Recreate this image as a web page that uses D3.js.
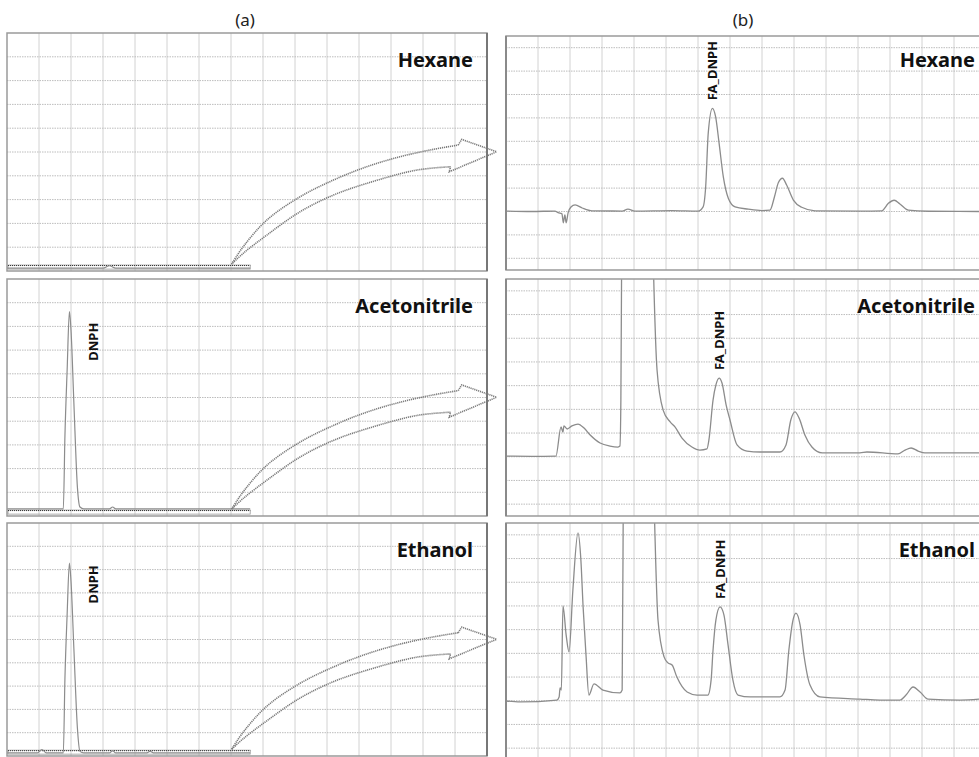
<!DOCTYPE html>
<html>
<head>
<meta charset="utf-8">
<script src="https://cdn.jsdelivr.net/npm/d3@7"></script>
<style>
  body { margin: 0; background: #fff; }
  text { font-family: "Noto Sans", "DejaVu Sans", sans-serif; }
</style>
</head>
<body>
<script>
// 画布宽高
const width = 979;
const height = 757;

// 溶剂 / 面板标题
const solvents = ['Hexane', 'Acetonitrile', 'Ethanol'];
const columnTitles = ['(a)', '(b)'];

// (a) 全谱: 保留时间 (格) 和信号
const hexFullTime = [0, 3.0, 3.2, 3.4, 7.6];
const hexFullSig  = [0.12, 0.12, 0.22, 0.12, 0.12];
const aceFullTime = [0, 1.7, 1.76, 1.81, 1.88, 1.95, 2.0, 2.09, 2.2, 2.28, 2.4, 3.2, 3.3, 3.4, 7.6];
const aceFullSig  = [0.3, 0.3, 0.3, 3.35, 6.18, 8.62, 7.85, 4.77, 1.22, 0.38, 0.3, 0.3, 0.38, 0.3, 0.3];
const ethFullTime = [0, 0.95, 1.09, 1.23, 1.7, 1.76, 1.81, 1.88, 1.95, 2.0, 2.09, 2.2, 2.28, 2.4, 3.2, 3.3, 3.4, 4.35, 4.47, 4.6, 7.6];
const ethFullSig  = [0.13, 0.13, 0.28, 0.13, 0.13, 0.13, 3.3, 6.1, 8.28, 7.5, 4.6, 1.2, 0.2, 0.13, 0.13, 0.23, 0.13, 0.13, 0.2, 0.13, 0.13];

// (b) 放大谱
const hexZoomTime = [0, 0.8, 1.53, 1.63, 1.75, 1.79, 1.84, 1.88, 1.94, 2.03, 2.16, 2.38, 2.69, 3.63, 3.81, 4.03, 5.19, 6.0, 6.16, 6.24, 6.32, 6.45, 6.55, 6.66, 6.79, 6.95, 7.16, 7.57, 7.99, 8.25, 8.39, 8.51, 8.64, 8.77, 8.98, 9.24, 9.66, 11.1, 11.74, 11.95, 12.13, 12.31, 12.57, 13.2, 14.8];
const hexZoomSig  = [0.02, 0.0, 0.02, -0.05, -0.1, -0.48, -0.15, -0.48, -0.06, 0.19, 0.28, 0.15, 0.03, 0.02, 0.1, 0.02, 0.04, 0.02, 0.2, 1.06, 3.35, 4.41, 4.05, 2.91, 1.49, 0.56, 0.2, 0.1, 0.04, 0.06, 0.63, 1.23, 1.42, 1.13, 0.49, 0.18, 0.03, 0.02, 0.03, 0.35, 0.48, 0.32, 0.06, 0.01, 0.0];
const aceZoomTime = [0, 0.8, 1.56, 1.72, 1.78, 1.81, 1.91, 2.06, 2.25, 2.44, 2.63, 2.94, 3.25, 3.5, 3.56, 3.59, 3.62, 4.1, 4.57, 4.72, 4.91, 5.13, 5.28, 5.5, 5.81, 6.06, 6.28, 6.34, 6.47, 6.56, 6.66, 6.75, 6.88, 7.0, 7.22, 7.53, 7.94, 8.56, 8.75, 8.9, 9.03, 9.16, 9.34, 9.56, 9.88, 11.06, 11.28, 12.25, 12.47, 12.66, 12.88, 13.09, 14.8];
const aceZoomSig  = [0.03, 0.02, 0.03, 1.26, 1.04, 1.3, 1.17, 1.3, 1.38, 1.21, 0.92, 0.58, 0.45, 0.41, 0.45, 2.4, 10, 60, 10, 3.66, 1.97, 1.47, 1.26, 0.79, 0.41, 0.28, 0.33, 0.7, 2.39, 3.03, 3.32, 3.11, 2.18, 1.55, 0.5, 0.24, 0.2, 0.2, 0.5, 1.55, 1.89, 1.63, 0.92, 0.41, 0.16, 0.16, 0.2, 0.12, 0.28, 0.37, 0.24, 0.16, 0.16];
const ethZoomTime = [0, 0.44, 1.59, 1.66, 1.69, 1.73, 1.78, 1.88, 1.97, 2.09, 2.25, 2.34, 2.41, 2.5, 2.59, 2.75, 3.03, 3.56, 3.63, 3.67, 4.1, 4.6, 4.75, 4.94, 5.06, 5.19, 5.34, 5.66, 5.97, 6.31, 6.41, 6.47, 6.56, 6.69, 6.81, 6.94, 7.09, 7.25, 7.63, 8.56, 8.72, 8.84, 8.97, 9.06, 9.19, 9.31, 9.5, 9.81, 11.06, 11.69, 12.31, 12.5, 12.72, 12.94, 13.19, 14.19, 14.8];
const ethZoomSig  = [-0.01, -0.05, 0.03, 0.16, 0.54, 0.45, 4.0, 2.77, 2.06, 4.67, 7.08, 5.94, 3.95, 1.93, 0.24, 0.71, 0.45, 0.33, 0.45, 10, 60, 10, 3.41, 1.85, 1.6, 1.51, 1.0, 0.37, 0.24, 0.24, 0.88, 2.14, 3.41, 3.96, 3.62, 2.35, 0.88, 0.24, 0.16, 0.16, 0.45, 2.14, 3.41, 3.7, 3.2, 1.93, 0.66, 0.16, 0.07, 0.03, 0.03, 0.24, 0.58, 0.37, 0.07, 0.03, 0.07];

// 峰标注
const fullPeakLabel = ['', 'DNPH', 'DNPH'];
const fullPeakTime = [0, 1.95, 1.95];
const zoomPeakLabel = ['FA_DNPH', 'FA_DNPH', 'FA_DNPH'];
const zoomPeakTime = [6.45, 6.66, 6.69];
const zoomPeakSig = [4.41, 3.32, 3.96];

// 放大区域 (a 中的时间范围)
const zoomWindow = [0, 7.6];

// 弯箭头 (a 面板坐标: 时间, 信号)
const arrowUpper = [[7.02, 0.29], [7.38, 1.02], [8.12, 2.14], [9.16, 3.12], [10.2, 3.82], [11.24, 4.38], [12.28, 4.8], [13.32, 5.11], [14.1, 5.29]];
const arrowHead  = [[14.1, 5.29], [14.21, 5.53], [15.3, 5.01], [13.82, 4.17], [13.86, 4.38]];
const arrowLower = [[13.86, 4.38], [12.8, 4.24], [11.24, 3.68], [10.2, 3.19], [9.16, 2.49], [8.12, 1.51], [7.38, 0.74], [7.02, 0.29]];

const fullSeries = [[hexFullTime, hexFullSig], [aceFullTime, aceFullSig], [ethFullTime, ethFullSig]];
const zoomSeries = [[hexZoomTime, hexZoomSig], [aceZoomTime, aceZoomSig], [ethZoomTime, ethZoomSig]];

// 面板位置
const leftBox = [{top: 33, bottom: 271}, {top: 279, bottom: 516}, {top: 523, bottom: 756}];
const rightBox = [{top: 36, bottom: 270}, {top: 279, bottom: 516}, {top: 523, bottom: 760}];
const leftX = [7, 487];
const rightX = [506, 986];

const traceColor = '#8c8c8c';

// 添加画布
const svg = d3.select('body')
    .append('svg')
    .attr('width', width)
    .attr('height', height);

// 列标题
svg.selectAll('.coltitle')
    .data(columnTitles)
    .enter()
    .append('text')
    .attr('x', (d, i) => i === 0 ? 245 : 743)
    .attr('y', 26)
    .attr('text-anchor', 'middle')
    .attr('font-size', 17)
    .attr('fill', '#222')
    .text(d => d);

function drawGrid(g, x, y, xTicks, yTicks, box, xr) {
  g.selectAll('.vgrid')
    .data(xTicks)
    .enter()
    .append('line')
    .attr('x1', d => x(d)).attr('x2', d => x(d))
    .attr('y1', box.top).attr('y2', box.bottom)
    .attr('stroke', '#d2d2d2')
    .attr('stroke-width', 1);
  g.selectAll('.hgrid')
    .data(yTicks)
    .enter()
    .append('line')
    .attr('x1', xr[0]).attr('x2', xr[1])
    .attr('y1', d => y(d)).attr('y2', d => y(d))
    .attr('stroke', '#bdbdbd')
    .attr('stroke-dasharray', '1.5,1')
    .attr('stroke-width', 1);
}

solvents.forEach((name, i) => {
  // ---------- (a) ----------
  const lb = leftBox[i];
  const xL = d3.scaleLinear().domain([0, 15]).range(leftX);
  const yL = d3.scaleLinear().domain([0, 10]).range([lb.bottom, lb.top]);
  const gL = svg.append('g');

  drawGrid(gL, xL, yL, d3.range(1, 15), d3.range(1, 10), lb, leftX);

  // 放大区域框
  gL.append('rect')
    .attr('x', xL(zoomWindow[0]) + 1)
    .attr('y', yL(0.25))
    .attr('width', xL(zoomWindow[1]) - xL(zoomWindow[0]) - 1)
    .attr('height', yL(0.08) - yL(0.25))
    .attr('fill', 'none')
    .attr('stroke', '#999')
    .attr('stroke-width', 0.8);
  gL.append('line')
    .attr('x1', xL(zoomWindow[0]) + 1).attr('x2', xL(zoomWindow[1]))
    .attr('y1', yL(0.25) + 0.5).attr('y2', yL(0.25) + 0.5)
    .attr('stroke', '#333')
    .attr('stroke-dasharray', '1,1');

  const [ft, fs] = fullSeries[i];
  const fullLine = d3.line()
    .x(d => xL(d[0]))
    .y(d => yL(d[1]))
    .curve(d3.curveMonotoneX);
  gL.append('path')
    .datum(d3.zip(ft, fs))
    .attr('d', fullLine)
    .attr('fill', 'none')
    .attr('stroke', traceColor)
    .attr('stroke-width', 1.2);

  // 边框
  gL.append('rect')
    .attr('x', leftX[0]).attr('y', lb.top)
    .attr('width', leftX[1] - leftX[0]).attr('height', lb.bottom - lb.top)
    .attr('fill', 'none')
    .attr('stroke', '#9a9a9a')
    .attr('stroke-width', 1.5);
  gL.append('line')
    .attr('x1', leftX[1]).attr('x2', leftX[1])
    .attr('y1', lb.top).attr('y2', lb.bottom)
    .attr('stroke', '#777')
    .attr('stroke-width', 2);

  if (fullPeakLabel[i]) {
    gL.append('text')
      .attr('transform', 'translate(' + (xL(fullPeakTime[i]) + 24) + ',' + yL(6.55) + ') rotate(-90)')
      .attr('dy', '0.35em')
      .attr('font-size', 13)
      .attr('font-weight', 'bold')
      .attr('fill', '#111')
      .text(fullPeakLabel[i]);
  }

  gL.append('text')
    .attr('x', leftX[1] - 14)
    .attr('y', lb.top + 34)
    .attr('text-anchor', 'end')
    .attr('font-size', 20)
    .attr('font-weight', 'bold')
    .attr('fill', '#111')
    .text(name);

  // ---------- (b) ----------
  const rb = rightBox[i];
  const xR = d3.scaleLinear().domain([0, 15]).range(rightX);
  const yR = d3.scaleLinear().domain([-2.5, 7.5]).range([rb.bottom, rb.top]);
  const gR = svg.append('g');

  drawGrid(gR, xR, yR, d3.range(1, 15), d3.range(-2, 8), rb, rightX);

  const clipId = 'clip' + i;
  svg.append('clipPath')
    .attr('id', clipId)
    .append('rect')
    .attr('x', rightX[0]).attr('y', rb.top)
    .attr('width', rightX[1] - rightX[0]).attr('height', rb.bottom - rb.top);

  const [zt, zs] = zoomSeries[i];
  const zoomLine = d3.line()
    .x(d => xR(d[0]))
    .y(d => yR(d[1]))
    .curve(d3.curveMonotoneX);
  gR.append('path')
    .datum(d3.zip(zt, zs))
    .attr('d', zoomLine)
    .attr('clip-path', 'url(#' + clipId + ')')
    .attr('fill', 'none')
    .attr('stroke', traceColor)
    .attr('stroke-width', 1.3);

  gR.append('rect')
    .attr('x', rightX[0]).attr('y', rb.top)
    .attr('width', rightX[1] - rightX[0]).attr('height', rb.bottom - rb.top)
    .attr('fill', 'none')
    .attr('stroke', '#9a9a9a')
    .attr('stroke-width', 1.5);
  gR.append('line')
    .attr('x1', rightX[0]).attr('x2', rightX[0])
    .attr('y1', rb.top).attr('y2', rb.bottom)
    .attr('stroke', '#8a8a8a')
    .attr('stroke-width', 2);

  gR.append('text')
    .attr('transform', 'translate(' + xR(zoomPeakTime[i]) + ',' + (yR(zoomPeakSig[i]) - 8) + ') rotate(-90)')
    .attr('dy', '0.35em')
    .attr('font-size', 13)
    .attr('font-weight', 'bold')
    .attr('fill', '#111')
    .text(zoomPeakLabel[i]);

  gR.append('text')
    .attr('x', 975)
    .attr('y', lb.top + 34)
    .attr('text-anchor', 'end')
    .attr('font-size', 20)
    .attr('font-weight', 'bold')
    .attr('fill', '#111')
    .text(name);

  // ---------- 弯箭头 ----------
  const arrowCurve = d3.line()
    .x(d => xL(d[0]))
    .y(d => yL(d[1]))
    .curve(d3.curveCatmullRom);
  const arrowLin = d3.line()
    .x(d => xL(d[0]))
    .y(d => yL(d[1]));
  [arrowUpper, arrowLower].forEach(pts => {
    svg.append('path')
      .attr('d', arrowCurve(pts))
      .attr('fill', 'none')
      .attr('stroke', '#7a7a7a')
      .attr('stroke-width', 1.6)
      .attr('stroke-dasharray', '1.2,0.8');
  });
  svg.append('path')
    .attr('d', arrowLin(arrowHead))
    .attr('fill', 'none')
    .attr('stroke', '#7a7a7a')
    .attr('stroke-width', 1.6)
    .attr('stroke-dasharray', '1.2,0.8');
});
</script>
</body>
</html>
